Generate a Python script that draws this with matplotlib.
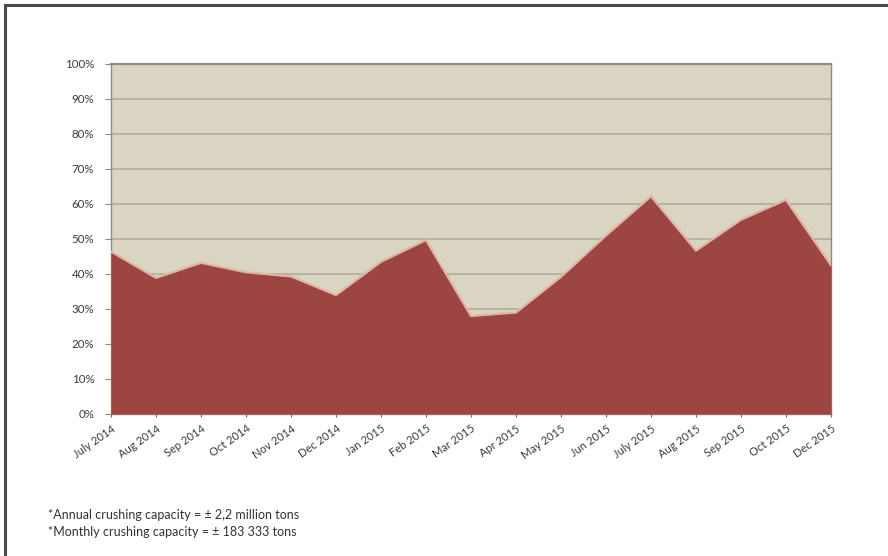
import matplotlib
matplotlib.use("Agg")
import matplotlib.pyplot as plt
from matplotlib.lines import Line2D
from matplotlib.ticker import FuncFormatter

months = ["July 2014", "Aug 2014", "Sep 2014", "Oct 2014", "Nov 2014", "Dec 2014",
          "Jan 2015", "Feb 2015", "Mar 2015", "Apr 2015", "May 2015", "Jun 2015",
          "July 2015", "Aug 2015", "Sep 2015", "Oct 2015", "Dec 2015"]
utilisation = [46.4, 38.9, 43.2, 40.5, 39.3, 34.0, 43.5, 49.7, 28.0, 29.0,
               39.2, 51.0, 62.2, 46.7, 55.5, 61.2, 42.5]
y_ticks = [0, 10, 20, 30, 40, 50, 60, 70, 80, 90, 100]
notes = ["*Annual crushing capacity = \u00b1 2,2 million tons",
         "*Monthly crushing capacity = \u00b1 183 333 tons"]

plt.rcParams["font.family"] = ["Lato", "DejaVu Sans"]

fig = plt.figure(figsize=(8.88, 5.56), dpi=100)
ax = fig.add_axes([0.125, 0.2554, 0.8108, 0.6295])

x = list(range(len(months)))
ax.set_facecolor("#d9d5c2")
ax.fill_between(x, utilisation, 0, color="#9c4543", linewidth=0, zorder=3)
ax.plot(x, utilisation, color="#e6b2a6", linewidth=1.6, zorder=4,
        solid_joinstyle="miter")

ax.set_xlim(0, len(months) - 1)
ax.set_ylim(0, 100)
ax.set_yticks(y_ticks)
ax.yaxis.set_major_formatter(FuncFormatter(lambda v, p: f"{int(v)}%"))
ax.grid(axis="y", color="#b3b09d", linewidth=1.3, zorder=1)
ax.set_axisbelow(True)

ax.set_xticks(x)
ax.set_xticklabels(months, rotation=35, ha="right", rotation_mode="anchor")
ax.tick_params(axis="x", direction="inout", length=5, color="#a04a48",
               labelsize=8, labelcolor="#3a3a3a", pad=4)
ax.tick_params(axis="y", direction="out", length=4, color="#8e8c80",
               labelsize=8.3, labelcolor="#3a3a3a", pad=8)

for side in ["left", "right", "top", "bottom"]:
    ax.spines[side].set_color("#8e8c80")
    ax.spines[side].set_linewidth(1.0)
ax.spines["top"].set_linewidth(1.6)

# outer frame along the top and left edges
fig.add_artist(Line2D([5 / 888, 1], [1 - 5 / 556, 1 - 5 / 556],
                      transform=fig.transFigure, color="#4a4a4a", linewidth=2.2))
fig.add_artist(Line2D([5 / 888, 5 / 888], [0, 1 - 5 / 556],
                      transform=fig.transFigure, color="#4a4a4a", linewidth=2.2))

for i, t in enumerate(notes):
    fig.text(48 / 888, 1 - (515 + 17.5 * i) / 556, t, fontsize=9,
             color="#333333", va="center", ha="left")

fig.savefig("out.png", dpi=100)
